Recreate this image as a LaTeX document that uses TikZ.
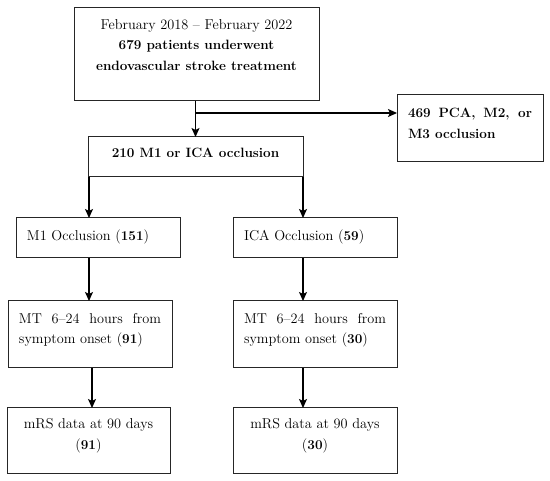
\documentclass[tikz,border=0pt]{standalone}
\usepackage{fontspec}
\usetikzlibrary{arrows.meta}
\hbadness=10000
\newcommand{\bxt}[5]{\parbox[t][#2][t]{#1}{#5\vspace*{#3}\strut #4}}
\newcommand{\B}[1]{{\fontsize{13.5}{20.5}\selectfont\bfseries #1}}
\tikzset{
  box/.style={draw=black!85, line width=1pt, anchor=north west, inner ysep=0pt, inner xsep=11pt, outer sep=0pt, font=\fontsize{14.3}{20.5}\selectfont},
  arr/.style={line width=1.3pt, -{Stealth[length=9pt,width=8pt,inset=2pt]}}
}
\begin{document}
\begin{tikzpicture}[x=1pt,y=-1pt]
\useasboundingbox (0,0) rectangle (550,481);
\node[box] (top) at (74,8) {\bxt{223pt}{93pt}{7pt}{February 2018 -- February 2022\\\B{679 patients underwent}\\\B{endovascular stroke treatment}}{\centering}};
\node[box] (r) at (397,95) {\bxt{124pt}{67pt}{8.6pt}{\B{469 PCA, M2, or M3 occlusion}}{}};
\node[box] (mid) at (88,137) {\bxt{193pt}{40pt}{6.6pt}{\B{210 M1 or ICA occlusion}}{\centering}};
\node[box] (m1) at (16,218) {\bxt{142pt}{40pt}{8.6pt}{M1 Occlusion (\B{151})}{\raggedright}};
\node[box] (ica) at (233,218) {\bxt{142pt}{40pt}{8.6pt}{ICA Occlusion (\B{59})}{\raggedright}};
\node[box] (mt1) at (8,301) {\bxt{142pt}{67pt}{8pt}{MT 6--24 hours from symptom onset (\B{91})}{}};
\node[box] (mt2) at (233,301) {\bxt{142pt}{67pt}{8pt}{MT 6--24 hours from symptom onset (\B{30})}{}};
\node[box] (mrs1) at (7,408) {\bxt{141pt}{66pt}{6.6pt}{mRS data at 90 days\\(\B{91})}{\centering}};
\node[box] (mrs2) at (233,408) {\bxt{142pt}{66pt}{6.6pt}{mRS data at 90 days\\(\B{30})}{\centering}};
\coordinate (j) at ([xshift=-1pt,yshift=-12pt]top.south);
\draw[arr] ([xshift=-1pt]top.south) -- ([xshift=-1pt]top.south |- mid.north);
\draw[arr] (j) -- (j -| r.west);
\draw[arr] ([xshift=1pt]mid.south west) -- ([xshift=1pt]mid.south west |- m1.north);
\draw[arr] (mid.south east) -- (mid.south east |- ica.north);
\draw[arr] ([xshift=-9pt]m1.south) -- ([xshift=-9pt]m1.south |- mt1.north);
\draw[arr] ([xshift=2pt]mt1.south) -- ([xshift=2pt]mt1.south |- mrs1.north);
\draw[arr] ([xshift=-12pt]ica.south) -- ([xshift=-12pt]ica.south |- mt2.north);
\draw[arr] ([xshift=-12pt]mt2.south) -- ([xshift=-12pt]mt2.south |- mrs2.north);
\end{tikzpicture}
\end{document}
